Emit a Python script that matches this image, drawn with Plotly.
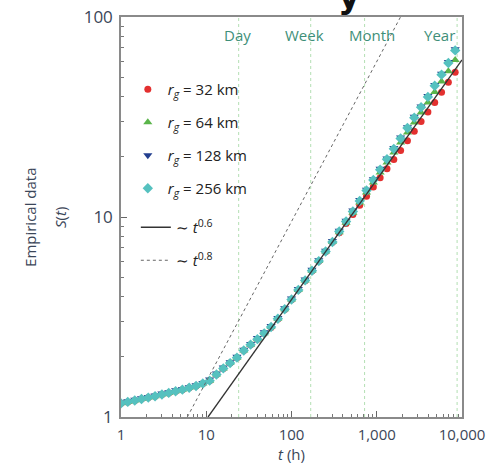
import math
import plotly.graph_objects as go

# ---------------- data ----------------
t_hours = [1.0, 1.20, 1.45, 1.74, 2.09, 2.51, 3.02, 3.63, 4.37, 5.25, 6.31, 7.59, 9.12,
           10.96, 13.18, 15.85, 19.05, 22.91, 27.54, 33.11, 39.81, 47.86, 57.54, 69.18,
           83.18, 100.0, 120.2, 144.5, 173.8, 208.9, 251.2, 302.0, 363.1, 436.5, 524.8,
           631.0, 758.6, 912.0, 1096, 1318, 1585, 1905, 2291, 2754, 3311, 3981, 4786,
           5754, 6918, 8318]

s_32km = [1.17, 1.19, 1.21, 1.23, 1.25, 1.27, 1.295, 1.32, 1.345, 1.37, 1.40, 1.43, 1.47,
          1.52, 1.63, 1.75, 1.86, 1.98, 2.15, 2.30, 2.45, 2.62, 2.80, 3.09,
          3.45, 3.86, 4.31, 4.80, 5.37, 6.00, 6.70, 7.48, 8.34, 9.27, 10.29,
          11.45, 12.71, 14.13, 15.70, 17.44, 19.38, 21.53, 24.04, 26.86, 29.99, 33.51, 37.42,
          42.02, 47.14, 52.98]

s_64km = [1.17, 1.19, 1.21, 1.23, 1.25, 1.27, 1.295, 1.32, 1.345, 1.37, 1.40, 1.43, 1.47,
          1.52, 1.63, 1.75, 1.86, 1.98, 2.15, 2.30, 2.45, 2.62, 2.82, 3.10,
          3.46, 3.87, 4.32, 4.82, 5.39, 6.02, 6.72, 7.50, 8.38, 9.36, 10.50,
          11.80, 13.24, 14.86, 16.68, 18.72, 21.00, 23.57, 26.45, 29.68, 33.31, 37.39, 42.15,
          47.52, 53.52, 60.94]

s_128km = [1.18, 1.20, 1.22, 1.24, 1.26, 1.28, 1.31, 1.33, 1.36, 1.38, 1.41, 1.44, 1.48,
           1.54, 1.65, 1.77, 1.88, 2.00, 2.17, 2.32, 2.48, 2.65, 2.85, 3.13,
           3.50, 3.91, 4.37, 4.87, 5.45, 6.08, 6.79, 7.58, 8.54, 9.59, 10.77,
           12.15, 13.70, 15.45, 17.42, 19.63, 22.13, 24.95, 28.12, 31.69, 35.71, 40.26, 45.75,
           52.0, 59.5, 69.0]

s_256km = [1.17, 1.19, 1.21, 1.23, 1.25, 1.27, 1.295, 1.32, 1.345, 1.37, 1.40, 1.43, 1.47,
           1.52, 1.63, 1.75, 1.86, 1.98, 2.15, 2.30, 2.45, 2.62, 2.82, 3.10,
           3.46, 3.87, 4.32, 4.82, 5.39, 6.02, 6.72, 7.50, 8.46, 9.50, 10.66,
           12.03, 13.56, 15.30, 17.25, 19.44, 21.91, 24.70, 27.84, 31.38, 35.36, 39.86, 45.30,
           51.48, 58.92, 68.08]

# power-law guide lines (end points)
fit06_t = [10.5, 10000]
fit06_s = [1.0, 61.0]
fit08_t = [6.0, 1900]
fit08_s = [1.0, 100.0]

# time-scale markers
period_names = ["Day", "Week", "Month", "Year"]
period_hours = [24, 168, 720, 8760]

x_tickvals = [1, 10, 100, 1000, 10000]
x_ticktext = ["1", "10", "100", "1,000", "10,000"]
x_minor_vals = [2, 3, 4, 5, 6, 7, 8, 9, 20, 30, 40, 50, 60, 70, 80, 90,
                200, 300, 400, 500, 600, 700, 800, 900,
                2000, 3000, 4000, 5000, 6000, 7000, 8000, 9000]
y_tickvals = [1, 10, 100]
y_ticktext = ["1", "10", "100"]
y_minor_vals = [2, 3, 4, 5, 6, 7, 8, 9, 20, 30, 40, 50, 60, 70, 80, 90]

series = [
    ("<i>r</i><sub><i>g</i></sub> = 32 km", s_32km, "circle", "#e3302f", 7),
    ("<i>r</i><sub><i>g</i></sub> = 64 km", s_64km, "triangle-up", "#5ab54a", 8),
    ("<i>r</i><sub><i>g</i></sub> = 128 km", s_128km, "triangle-down", "#233f8f", 8),
    ("<i>r</i><sub><i>g</i></sub> = 256 km", s_256km, "diamond", "#55c1bf", 8),
]

FONT = "Open Sans"
TXT = "#3b4658"

fig = go.Figure()

for i, (name, ys, sym, col, sz) in enumerate(series):
    fig.add_trace(go.Scatter(
        x=t_hours, y=ys, mode="markers", name=name,
        legendgroup=f"g{i}", legend="legend",
        marker=dict(symbol=sym, color=col, size=sz, line=dict(width=0)),
    ))

fig.add_trace(go.Scatter(
    x=fit06_t, y=fit06_s, mode="lines", name="∼ <i>t</i><sup>0.6</sup>",
    legendgroup="g4", legend="legend2", line=dict(color="#333333", width=1.3),
))
fig.add_trace(go.Scatter(
    x=fit08_t, y=fit08_s, mode="lines", name="∼ <i>t</i><sup>0.8</sup>",
    legendgroup="g5", legend="legend2", line=dict(color="#666666", width=1, dash="dot"),
))

for h in period_hours:
    fig.add_shape(type="line", xref="x", yref="paper", x0=h, x1=h, y0=0, y1=1,
                  line=dict(color="#b3dfb3", width=1, dash="dot"), layer="below")

label_shift = [-1, -6, 7, -18]
for name, h, dx in zip(period_names, period_hours, label_shift):
    fig.add_annotation(x=math.log10(h), y=0.955, xref="x", yref="paper", text=name,
                       showarrow=False, xanchor="center", yanchor="middle", xshift=dx,
                       font=dict(family=FONT, size=15, color="#3e8f79"))

# y-axis title as two rotated lines
fig.add_annotation(x=-0.267, y=0.5, xref="paper", yref="paper", text="Empirical data",
                   textangle=-90, showarrow=False, xanchor="center", yanchor="middle",
                   font=dict(family=FONT, size=15, color=TXT))
fig.add_annotation(x=-0.179, y=0.5, xref="paper", yref="paper",
                   text="<i>S</i>(<i>t</i>)",
                   textangle=-90, showarrow=False, xanchor="center", yanchor="middle",
                   font=dict(family=FONT, size=15, color=TXT))

# cut-off glyph of the title above the panel
fig.add_annotation(x=0.67, y=1.0, xref="paper", yref="paper", text="<b>y</b>",
                   showarrow=False, xanchor="center", yanchor="bottom", yshift=-1,
                   font=dict(family="DejaVu Sans", size=34, color="#111"))

def axis_common(minor_vals):
    return dict(
        type="log", showgrid=False, zeroline=False, automargin=False,
        showline=True, mirror=True, linecolor="#8a8a8a", linewidth=1.5,
        ticks="inside", ticklen=6, tickcolor="#666", ticklabelstandoff=3,
        minor=dict(ticks="inside", ticklen=3, tickcolor="#777", showgrid=False,
                   tickmode="array", tickvals=minor_vals),
    )

legend_common = dict(xanchor="left", yanchor="top", bgcolor="rgba(0,0,0,0)",
                     traceorder="grouped", tracegroupgap=10.5,
                     font=dict(family=FONT, size=15, color="#222"), itemwidth=30)

fig.update_layout(
    width=493, height=476,
    margin=dict(l=121, r=31, t=17, b=59),
    paper_bgcolor="white", plot_bgcolor="white",
    font=dict(family=FONT, color=TXT),
    xaxis=dict(axis_common(x_minor_vals), range=[0, 4], tickvals=x_tickvals, ticktext=x_ticktext,
               tickfont=dict(size=15, color=TXT),
               title=dict(text="<i>t</i> (h)", font=dict(size=15, color=TXT), standoff=6)),
    yaxis=dict(axis_common(y_minor_vals), range=[0, 2], tickvals=y_tickvals, ticktext=y_ticktext,
               tickfont=dict(size=17, color=TXT)),
    showlegend=True,
    legend=dict(legend_common, x=0.02, y=0.86),
    legend2=dict(legend_common, x=0.0435, y=0.515),
)

fig.write_html("out.html", config={"displayModeBar": False},
               post_script="document.body.style.margin='0';")
